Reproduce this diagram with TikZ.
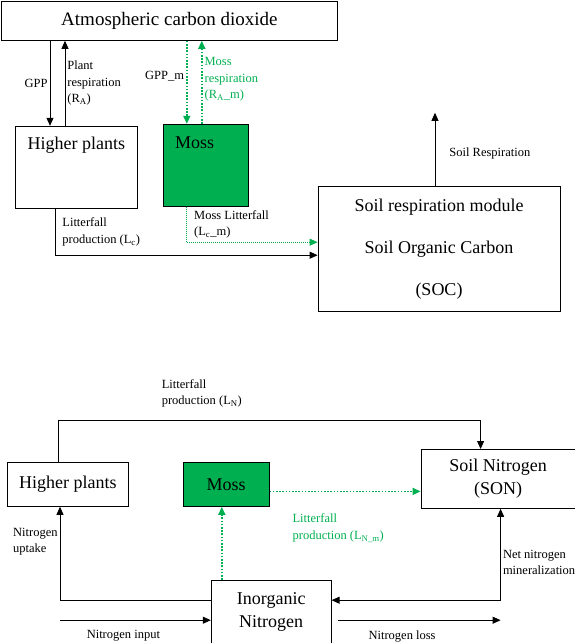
\documentclass[tikz,border=0pt]{standalone}
\usepackage{fontspec}
\setmainfont{Liberation Serif}
\usetikzlibrary{arrows.meta, positioning}
\definecolor{mossgreen}{RGB}{0,176,80}
\newcommand{\boxfont}{\fontsize{18}{23}\selectfont}
\newcommand{\labfont}{\fontsize{12.5}{16.5}\selectfont}

\begin{document}
\begin{tikzpicture}[
    x=1pt, y=-1pt,
    box/.style={rectangle, draw, line width=0.8pt, inner sep=2pt, align=center, font=\boxfont},
    mossbox/.style={box, fill=mossgreen},
    lab/.style={font=\labfont, align=left, inner sep=2pt, text=black},
    glab/.style={lab, text=mossgreen},
    arr/.style={-{Triangle[length=8pt, width=7pt]}, line width=0.8pt},
    darr/.style={{Triangle[length=8pt, width=7pt]}-{Triangle[length=8pt, width=7pt]}, line width=0.8pt},
    garr/.style={-{Triangle[length=8pt, width=7pt]}, line width=1.6pt, color=mossgreen, dash pattern=on 1.6pt off 1.6pt},
    gthin/.style={-{Triangle[length=8pt, width=7pt]}, line width=0.8pt, color=mossgreen, dash pattern=on 0.8pt off 1.2pt}
]
    \useasboundingbox (0,0) rectangle (575,643);

    \node (atm) [box, font=\fontsize{19}{23}\selectfont, minimum width=336pt, minimum height=39pt, anchor=north west] at (1,1) {Atmospheric carbon dioxide};
    \node (hp) [box, minimum width=122pt, minimum height=82pt, below right=85pt and 14pt of atm.south west,
        label={[font=\boxfont, inner sep=2pt, anchor=north, yshift=-9pt]north:Higher plants}] {};
    \node (moss) [mossbox, minimum width=85pt, minimum height=82pt, right=25pt of hp, yshift=2pt,
        label={[font=\boxfont, inner sep=2pt, anchor=north west, xshift=10pt, yshift=-10.5pt]north west:Moss}] {};
    \node (soc) [box, font=\fontsize{18}{42}\selectfont, minimum width=242pt, minimum height=125pt, below right=62pt and 69pt of moss.north east] {Soil respiration module\\Soil Organic Carbon\\(SOC)};

    \coordinate (gpp) at ([xshift=35pt]hp.north west);
    \coordinate (pres) at ([xshift=50pt]hp.north west);
    \coordinate (gppm) at ([xshift=24pt]moss.north west);
    \coordinate (mres) at ([xshift=39pt]moss.north west);
    \coordinate (litc) at ([xshift=40pt]hp.south west);
    \coordinate (mlit) at ([xshift=24pt]moss.south west);
    \coordinate (socup) at ([xshift=-4pt]soc.north);
    \coordinate[above=73pt of socup] (resp);

    \draw[arr] (gpp |- atm.south) -- node[lab, left] {GPP} (gpp);
    \draw[arr] (pres) -- node[lab, right] {Plant\\respiration\\(R\textsubscript{A})} (pres |- atm.south);
    \draw[garr] (gppm |- atm.south) -- node[lab, left, yshift=6pt] {GPP\_m} (gppm);
    \draw[garr] (mres) -- node[glab, right, yshift=3pt] {Moss\\respiration\\(R\textsubscript{A}\_m)} (mres |- atm.south);
    \draw[arr] (litc) |- node[lab, right, pos=0.25, xshift=5pt] {Litterfall\\production (L\textsubscript{c})} ([yshift=-6.5pt]soc.west);
    \draw[gthin] (mlit) |- node[lab, right, pos=0.25, xshift=5pt] {Moss Litterfall\\(L\textsubscript{c}\_m)} ([yshift=6.5pt]soc.west);
    \draw[arr] (socup) -- node[lab, right=12pt, yshift=-4pt] {Soil Respiration} (resp);

    \node (hpn) [box, minimum width=121pt, minimum height=44pt, anchor=north west] at (7,462) {Higher plants};
    \node (mossn) [mossbox, minimum width=86pt, minimum height=44pt, right=54pt of hpn] {Moss};
    \node (son) [box, minimum width=154pt, minimum height=59pt, right=151pt of mossn, yshift=5.5pt] {Soil Nitrogen\\(SON)};
    \node (inorg) [box, minimum width=120pt, minimum height=63pt, below right=73pt and 28pt of mossn.south west] {Inorganic\\Nitrogen};

    \coordinate (lnup) at ([xshift=51pt]hpn.north west);
    \coordinate (lndn) at ([xshift=60pt]son.north west);
    \coordinate (upt) at ([xshift=53pt]hpn.south west);
    \coordinate (mup) at ([xshift=11pt]inorg.north west);
    \coordinate (mson) at ([yshift=-7pt]mossn.east);
    \coordinate (nnm) at ([xshift=80pt]son.south west);
    \coordinate (ninb) at ([yshift=-8.5pt]inorg.west);
    \coordinate (nin) at (upt |- ninb);
    \coordinate (nlossa) at ([xshift=6pt, yshift=-8.5pt]inorg.east);
    \coordinate (nloss) at (nnm |- nlossa);

    \draw[arr] (lnup) -- ++(0,-42) -| node[lab, above right, pos=0.12, yshift=10pt] {Litterfall\\production (L\textsubscript{N})} (lndn);
    \draw[garr] (mson) -- (mson -| son.west);
    \draw[arr] ([yshift=11.5pt]inorg.west) -| node[lab, left, pos=0.75, yshift=12pt] {Nitrogen\\uptake} (upt);
    \draw[garr] (mup) -- node[glab, right, xshift=68pt, yshift=15pt] {Litterfall\\production (L\textsubscript{N\_m})} (mup |- mossn.south);
    \draw[darr] (nnm) |- node[lab, right, pos=0.25, yshift=-8pt] {Net nitrogen\\mineralization} ([yshift=11.5pt]inorg.east);
    \draw[arr] (nin) -- node[lab, below, xshift=-12pt, yshift=-8pt] {Nitrogen input} (ninb);
    \draw[arr] (nlossa) -- node[lab, below, xshift=-17pt, yshift=-8pt] {Nitrogen loss} (nloss);
\end{tikzpicture}
\end{document}
